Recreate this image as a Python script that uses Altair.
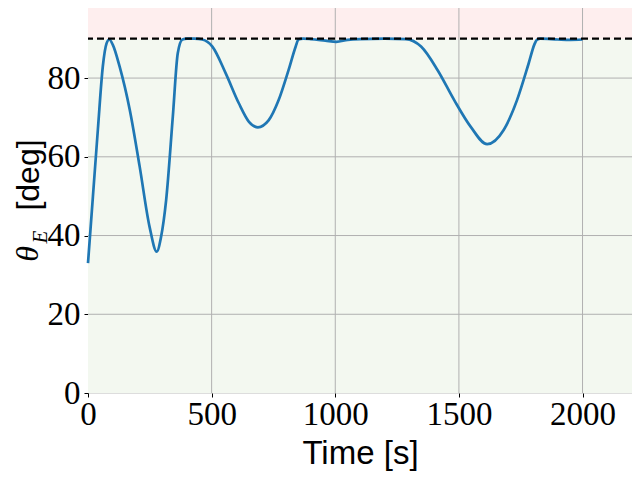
import altair as alt
import pandas as pd

# Time series of theta_E
time_s = [0, 20, 40, 60, 75, 86, 100, 128, 169, 209, 249, 278, 295, 316, 343, 363, 382,
          400, 430, 462, 503, 557, 610, 651, 687, 731, 771, 811, 840, 851, 870, 900, 960,
          1004, 1050, 1100, 1200, 1285, 1347, 1414, 1481, 1548, 1614, 1681, 1735, 1782,
          1805, 1815, 1830, 1900, 1950, 2000]
theta_deg = [33, 50, 67, 83, 88.8, 89.8, 88.5, 82.9, 71.9, 57.5, 42.2, 35.9, 39.5, 49, 70.2,
             86.3, 89.8, 90, 90, 89.8, 88, 81.2, 73.6, 68.9, 67.5, 69.3, 74.4, 82, 88, 89.8,
             90, 89.9, 89.5, 89.2, 89.7, 89.9, 90, 89.9, 88, 82, 74.4, 67.6, 63.2, 66.8, 74.4,
             83.7, 88.5, 89.7, 90, 89.8, 89.7, 89.8]

limit = 90
y_max = 97.8
x_max = 2200
x_ticks = [0, 500, 1000, 1500, 2000]
y_ticks = [0, 20, 40, 60, 80]
band_lo = [0, limit]
band_hi = [limit, y_max]
band_color = ["#f3f8f0", "#feeeee"]

df = pd.DataFrame({"t": time_s, "theta": theta_deg})
bands = pd.DataFrame({"lo": band_lo, "hi": band_hi, "c": band_color,
                      "x0": [0, 0], "x1": [x_max, x_max]})

xscale = alt.Scale(domain=[0, x_max], nice=False, zero=False)
yscale = alt.Scale(domain=[0, y_max], nice=False, zero=False)

xaxis = alt.Axis(values=x_ticks, title="Time [s]", format="d", grid=False,
                 labelFont="Liberation Serif", labelFontSize=33, labelColor="black",
                 labelPadding=1, titleFont="Liberation Sans", titleFontSize=33,
                 titleFontWeight="normal", titleColor="black", titlePadding=6,
                 tickColor="black", tickSize=4, domain=False, labelFlush=False)
yaxis = alt.Axis(values=y_ticks, title=None, format="d", grid=False,
                 labelFont="Liberation Serif", labelFontSize=33, labelColor="black",
                 labelPadding=4, tickColor="black", tickSize=4, domain=False,
                 labelFlush=False)

bg = alt.Chart(bands).mark_rect(strokeWidth=0).encode(
    x=alt.X("x0:Q", scale=xscale, axis=xaxis),
    x2="x1:Q",
    y=alt.Y("lo:Q", scale=yscale, axis=yaxis),
    y2="hi:Q",
    color=alt.Color("c:N", scale=None),
)

gx = alt.Chart(pd.DataFrame({"v": x_ticks[1:]})).mark_rule(
    color="#b0b0b0", strokeWidth=1).encode(x=alt.X("v:Q", scale=xscale))
gy = alt.Chart(pd.DataFrame({"v": y_ticks[1:]})).mark_rule(
    color="#b0b0b0", strokeWidth=1).encode(y=alt.Y("v:Q", scale=yscale))

line = alt.Chart(df).mark_line(color="#1f77b4", strokeWidth=2.7, interpolate="monotone").encode(
    x=alt.X("t:Q", scale=xscale),
    y=alt.Y("theta:Q", scale=yscale),
)

rule = alt.Chart(pd.DataFrame({"y": [limit]})).mark_rule(
    color="black", strokeWidth=2.2, strokeDash=[7, 4]
).encode(y=alt.Y("y:Q", scale=yscale))

t_deg = alt.Chart(pd.DataFrame({"s": ["[deg]"]})).mark_text(
    font="Liberation Sans", fontSize=32, angle=270, align="center", baseline="alphabetic",
    color="black"
).encode(text="s:N", x=alt.value(-49), y=alt.value(167))
t_theta = alt.Chart(pd.DataFrame({"s": ["θ"]})).mark_text(
    font="Liberation Serif", fontStyle="italic", fontSize=32, angle=270, align="center",
    baseline="alphabetic", color="black"
).encode(text="s:N", x=alt.value(-50), y=alt.value(246))
t_e = alt.Chart(pd.DataFrame({"s": ["E"]})).mark_text(
    font="Liberation Serif", fontStyle="italic", fontSize=21, angle=270, align="center",
    baseline="alphabetic", color="black"
).encode(text="s:N", x=alt.value(-41), y=alt.value(229))

chart = alt.layer(bg, gx, gy, line, rule, t_deg, t_theta, t_e).properties(
    width=544, height=385,
    autosize=alt.AutoSizeParams(type="none"),
    padding={"left": 80, "top": 0, "right": 0, "bottom": 79},
).configure_view(stroke="black", strokeWidth=1.2).configure(background="white")

chart.save("out.html", embed_options={"renderer": "svg", "actions": False})
